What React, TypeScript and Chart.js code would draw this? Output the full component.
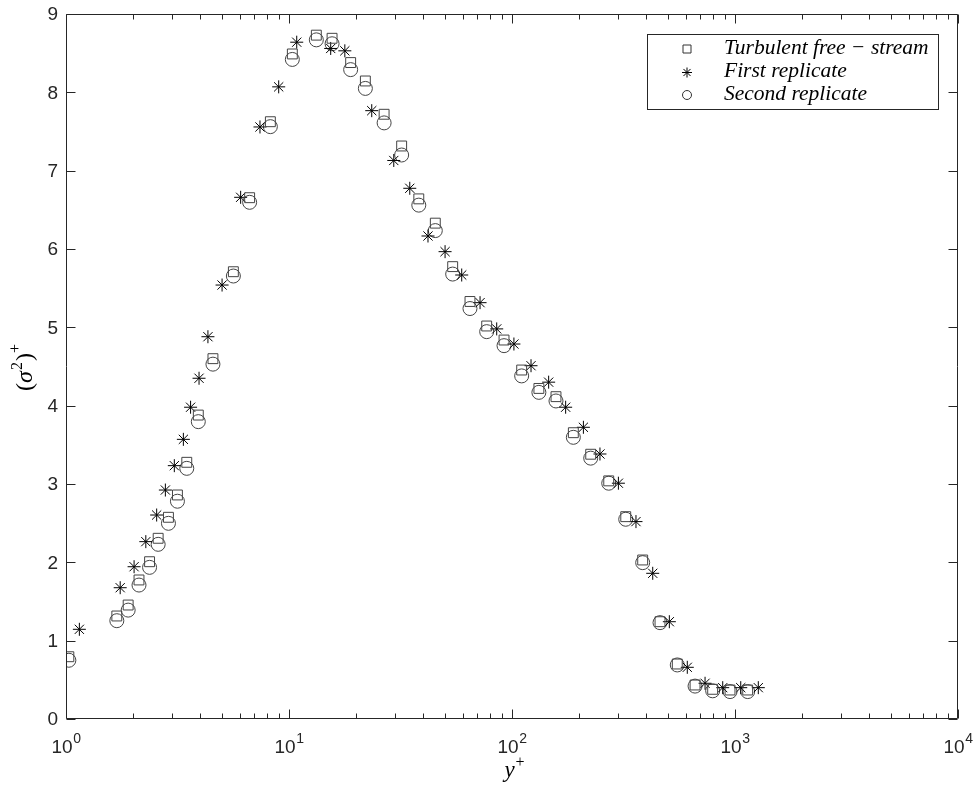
import React, { useEffect, useRef } from 'react';
import { Chart, registerables } from 'chart.js';
Chart.register(...registerables);

// ---- data ----
const xFree = [1.03, 1.69, 1.90, 2.125, 2.37, 2.59, 2.88, 3.16, 3.48, 3.92, 4.56, 5.63, 6.66, 8.25, 10.35, 13.26, 15.6, 18.9, 22.0, 26.7, 32.0, 38.2, 45.3, 54.2, 64.8, 77.0, 92.1, 110.5, 132, 157.5, 188.4, 225.4, 271.5, 323.6, 385.5, 461, 551, 662, 794, 950, 1140];
const yFree = [0.795, 1.315, 1.455, 1.775, 2.008, 2.307, 2.575, 2.86, 3.277, 3.88, 4.6, 5.71, 6.655, 7.625, 8.49, 8.73, 8.69, 8.38, 8.145, 7.72, 7.315, 6.64, 6.33, 5.775, 5.33, 5.017, 4.838, 4.455, 4.22, 4.115, 3.655, 3.38, 3.04, 2.583, 2.03, 1.242, 0.702, 0.434, 0.379, 0.37, 0.37];
const xSecond = [1.03, 1.69, 1.90, 2.125, 2.37, 2.59, 2.88, 3.16, 3.48, 3.92, 4.56, 5.63, 6.66, 8.25, 10.35, 13.26, 15.6, 18.9, 22.0, 26.7, 32.0, 38.2, 45.3, 54.2, 64.8, 77.0, 92.1, 110.5, 132, 157.5, 188.4, 225.4, 271.5, 323.6, 385.5, 461, 551, 662, 794, 950, 1140];
const ySecond = [0.75, 1.255, 1.39, 1.71, 1.936, 2.23, 2.498, 2.78, 3.2, 3.796, 4.53, 5.655, 6.596, 7.562, 8.42, 8.67, 8.62, 8.29, 8.05, 7.61, 7.2, 6.56, 6.235, 5.68, 5.24, 4.945, 4.766, 4.38, 4.17, 4.06, 3.596, 3.33, 3.01, 2.55, 1.996, 1.23, 0.69, 0.42, 0.36, 0.35, 0.35];
const xFirst = [1.148, 1.75, 2.02, 2.28, 2.55, 2.79, 3.06, 3.36, 3.62, 3.95, 4.33, 5.01, 6.07, 7.41, 8.99, 10.83, 15.38, 17.8, 23.5, 29.5, 34.8, 42.0, 50.1, 59.5, 71.9, 85.4, 102, 121.7, 146, 174, 209, 248, 300, 359.7, 427.6, 507.6, 611, 734, 881, 1061, 1272];
const yFirst = [1.145, 1.676, 1.944, 2.264, 2.604, 2.923, 3.234, 3.57, 3.98, 4.35, 4.88, 5.54, 6.66, 7.558, 8.07, 8.64, 8.56, 8.53, 7.766, 7.13, 6.775, 6.166, 5.966, 5.668, 5.315, 4.98, 4.787, 4.51, 4.30, 3.98, 3.724, 3.383, 3.01, 2.52, 1.86, 1.242, 0.66, 0.456, 0.40, 0.40, 0.40];

const seriesNames = ['Turbulent free \u2212 stream', 'First replicate', 'Second replicate'];
const yTickValues = [0, 1, 2, 3, 4, 5, 6, 7, 8, 9];
const xMajorTicks = [1, 10, 100, 1000, 10000];
const xTickExponents = ['0', '1', '2', '3', '4'];
const xMinorMultipliers = [2, 3, 4, 5, 6, 7, 8, 9];

const AXIS = '#262626';
const SANS = '"Liberation Sans", Arial, sans-serif';
const SERIF = '"Liberation Serif", "Times New Roman", serif';

const toPts = (xs: number[], ys: number[]) => xs.map((x, i) => ({ x, y: ys[i] }));

const decorPlugin = {
  id: 'decor',
  afterDraw(chart: any) {
    const { ctx, chartArea: a, scales } = chart;
    const xs = scales.x;
    const ys = scales.y;
    ctx.save();
    ctx.strokeStyle = AXIS;
    ctx.lineWidth = 1;
    const L = Math.round(a.left) + 0.5;
    const R = Math.round(a.right) - 0.5;
    const T = Math.round(a.top) + 0.5;
    const B = Math.round(a.bottom) - 0.5;
    ctx.beginPath();
    ctx.rect(L, T, R - L, B - T);
    ctx.stroke();

    // y ticks
    ctx.beginPath();
    yTickValues.forEach((v) => {
      const py = Math.round(ys.getPixelForValue(v)) + 0.5;
      ctx.moveTo(L, py); ctx.lineTo(L + 9, py);
      ctx.moveTo(R, py); ctx.lineTo(R - 9, py);
    });
    // x ticks
    xMajorTicks.forEach((v, i) => {
      const px = Math.round(xs.getPixelForValue(v)) + 0.5;
      ctx.moveTo(px, B); ctx.lineTo(px, B - 9);
      ctx.moveTo(px, T); ctx.lineTo(px, T + 9);
      if (i < xMajorTicks.length - 1) {
        xMinorMultipliers.forEach((m) => {
          const qx = Math.round(xs.getPixelForValue(v * m)) + 0.5;
          ctx.moveTo(qx, B); ctx.lineTo(qx, B - 5);
          ctx.moveTo(qx, T); ctx.lineTo(qx, T + 5);
        });
      }
    });
    ctx.stroke();

    // y tick labels
    ctx.fillStyle = AXIS;
    ctx.font = `19px ${SANS}`;
    ctx.textAlign = 'right';
    ctx.textBaseline = 'middle';
    yTickValues.forEach((v) => {
      const py = ys.getPixelForValue(v);
      ctx.fillText(String(v), a.left - 8, py + 1);
    });

    // x tick labels 10^n
    ctx.textBaseline = 'alphabetic';
    ctx.textAlign = 'left';
    xMajorTicks.forEach((v, i) => {
      const px = xs.getPixelForValue(v);
      ctx.font = `19px ${SANS}`;
      const w1 = ctx.measureText('10').width;
      ctx.font = `14px ${SANS}`;
      const w2 = ctx.measureText(xTickExponents[i]).width;
      const start = px - (w1 + w2) / 2;
      ctx.font = `19px ${SANS}`;
      ctx.fillText('10', start, a.bottom + 34);
      ctx.font = `14px ${SANS}`;
      ctx.fillText(xTickExponents[i], start + w1 + 0.5, a.bottom + 24);
    });

    // x axis title y^+
    ctx.fillStyle = '#000';
    ctx.font = `italic 23px ${SERIF}`;
    const cx = (a.left + a.right) / 2;
    const wy = ctx.measureText('y').width;
    ctx.font = `16px ${SERIF}`;
    const wp = ctx.measureText('+').width;
    const sx = cx - (wy + wp) / 2 + 2;
    ctx.font = `italic 23px ${SERIF}`;
    ctx.fillText('y', sx, 777);
    ctx.font = `16px ${SERIF}`;
    ctx.fillText('+', sx + wy + 1, 767);

    // y axis title (sigma^2)^+
    ctx.save();
    ctx.translate(32, 367);
    ctx.rotate(-Math.PI / 2);
    const parts = [
      { t: '(', f: `24px ${SERIF}`, dy: 0, gap: 0 },
      { t: '\u03c3', f: `italic 24px ${SERIF}`, dy: 0, gap: 1 },
      { t: '2', f: `16px ${SERIF}`, dy: -10, gap: 1 },
      { t: ')', f: `24px ${SERIF}`, dy: 0, gap: 0 },
      { t: '+', f: `16px ${SERIF}`, dy: -12, gap: 1 },
    ];
    let total = 0;
    parts.forEach((p) => { ctx.font = p.f; total += ctx.measureText(p.t).width + p.gap; });
    let ox = -total / 2;
    parts.forEach((p) => {
      ctx.font = p.f;
      ctx.fillText(p.t, ox, p.dy);
      ox += ctx.measureText(p.t).width + p.gap;
    });
    ctx.restore();

    // legend
    const bx = 647.5, by = 34.5, bw = 291, bh = 75;
    ctx.fillStyle = '#fff';
    ctx.fillRect(bx, by, bw, bh);
    ctx.strokeStyle = AXIS;
    ctx.lineWidth = 1;
    ctx.strokeRect(bx, by, bw, bh);
    const rows = [49, 72.5, 95];
    const mx = 687;
    ctx.strokeStyle = '#333';
    // square
    ctx.beginPath();
    ctx.rect(mx - 4, rows[0] - 4, 8, 8);
    ctx.stroke();
    // star
    ctx.strokeStyle = '#000';
    ctx.beginPath();
    const r = 5;
    const d = r * Math.SQRT1_2;
    ctx.moveTo(mx - r, rows[1]); ctx.lineTo(mx + r, rows[1]);
    ctx.moveTo(mx, rows[1] - r); ctx.lineTo(mx, rows[1] + r);
    ctx.moveTo(mx - d, rows[1] - d); ctx.lineTo(mx + d, rows[1] + d);
    ctx.moveTo(mx - d, rows[1] + d); ctx.lineTo(mx + d, rows[1] - d);
    ctx.stroke();
    // circle
    ctx.strokeStyle = '#333';
    ctx.beginPath();
    ctx.arc(mx, rows[2], 4.5, 0, Math.PI * 2);
    ctx.stroke();

    ctx.fillStyle = '#000';
    ctx.font = `italic 21.5px ${SERIF}`;
    ctx.textBaseline = 'middle';
    ctx.textAlign = 'left';
    seriesNames.forEach((n, i) => ctx.fillText(n, 724, rows[i] - 1));
    ctx.restore();
  },
};

export default function App() {
  const ref = useRef<HTMLCanvasElement | null>(null);
  useEffect(() => {
    if (!ref.current) return;
    const chart = new Chart(ref.current, {
      type: 'scatter',
      data: {
        datasets: [
          {
            label: seriesNames[0],
            data: toPts(xFree, yFree),
            pointStyle: 'rect',
            pointRadius: 7,
            borderColor: '#444',
            backgroundColor: 'rgba(0,0,0,0)',
            pointBorderWidth: 1,
          },
          {
            label: seriesNames[1],
            data: toPts(xFirst, yFirst),
            pointStyle: 'star',
            pointRadius: 6.5,
            borderColor: '#000',
            backgroundColor: 'rgba(0,0,0,0)',
            pointBorderWidth: 1,
          },
          {
            label: seriesNames[2],
            data: toPts(xSecond, ySecond),
            pointStyle: 'circle',
            pointRadius: 7,
            borderColor: '#444',
            backgroundColor: 'rgba(0,0,0,0)',
            pointBorderWidth: 1,
          },
        ],
      },
      options: {
        responsive: false,
        animation: false,
        devicePixelRatio: 1,
        layout: { padding: { left: 66, top: 14, right: 21, bottom: 70 } },
        plugins: { legend: { display: false }, tooltip: { enabled: false } },
        scales: {
          x: { type: 'logarithmic', min: 1, max: 10000, display: false },
          y: { type: 'linear', min: 0, max: 9, display: false },
        },
      },
      plugins: [decorPlugin],
    });
    return () => chart.destroy();
  }, []);
  return (
    <div style={{ position: 'absolute', left: 0, top: 0, width: 979, height: 789, background: '#fff' }}>
      <canvas ref={ref} width={979} height={789} />
    </div>
  );
}
